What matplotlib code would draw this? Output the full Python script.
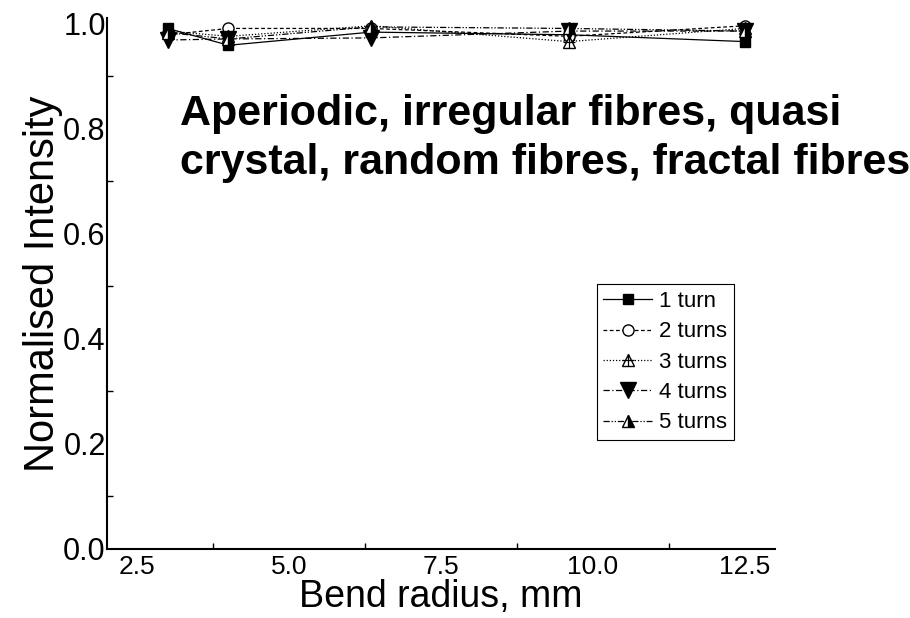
import numpy as np
import matplotlib
matplotlib.use("Agg")
import matplotlib.pyplot as plt
from matplotlib.ticker import MultipleLocator

plt.rcParams['font.family'] = ['Liberation Sans', 'DejaVu Sans']

# bend radius (mm) and normalised intensity for each number of turns
bend_radius = [3.0, 4.0, 6.35, 9.6, 12.5]
turn1 = [0.990, 0.958, 0.983, 0.978, 0.965]
turn2 = [0.978, 0.990, 0.990, 0.975, 0.995]
turn3 = [0.985, 0.975, 0.995, 0.965, 0.990]
turn4 = [0.968, 0.970, 0.972, 0.985, 0.985]
turn5 = [0.982, 0.970, 0.993, 0.990, 0.985]
labels = ["1 turn", "2 turns", "3 turns", "4 turns", "5 turns"]

fig = plt.figure(figsize=(9.1, 6.18), dpi=100)
ax = fig.add_axes([0.1176, 0.1117, 0.734, 0.8593])

lw = 0.9
ms = 8
h1, = ax.plot(bend_radius, turn1, '-', color='k', lw=lw, marker='s', ms=ms - 1,
              mfc='k', mec='k')
h2, = ax.plot(bend_radius, turn2, color='k', lw=lw, ls=(0, (3, 2)), marker='o', ms=ms,
              mfc='white', mec='k')
h3, = ax.plot(bend_radius, turn3, color='k', lw=lw, ls=(0, (1, 1.5)), marker='^', ms=ms + 1,
              mfc='white', mec='k')
# cross inside the open triangle
h3b, = ax.plot(bend_radius, turn3, ls='none', marker='+', ms=ms, mec='k', mew=0.9)
h4, = ax.plot(bend_radius, turn4, color='k', lw=lw, ls=(0, (5, 2, 1, 2)), marker='v', ms=ms + 3,
              mfc='k', mec='k')
h5, = ax.plot(bend_radius, turn5, color='k', lw=lw, ls=(0, (5, 1.5, 1, 1.5, 1, 1.5)),
              marker='^', ms=ms + 1, fillstyle='right', mfc='k', mfcalt='white', mec='k')

ax.set_xlim(2, 13)
ax.set_ylim(0, 1.01)
ax.xaxis.set_major_locator(MultipleLocator(2.5))
ax.xaxis.set_minor_locator(MultipleLocator(2.5, offset=1.25))
ax.yaxis.set_major_locator(MultipleLocator(0.2))
ax.yaxis.set_minor_locator(MultipleLocator(0.2, offset=0.1))
ax.xaxis.set_major_formatter(plt.FormatStrFormatter('%.1f'))
ax.yaxis.set_major_formatter(plt.FormatStrFormatter('%.1f'))
ax.tick_params(which='major', length=0)
ax.tick_params(which='minor', direction='in', length=4, width=1)
ax.tick_params(axis='y', labelsize=22, pad=1)
ax.tick_params(axis='x', labelsize=19, pad=4)

for side in ('top', 'right'):
    ax.spines[side].set_visible(False)
for side in ('left', 'bottom'):
    ax.spines[side].set_linewidth(1.5)

ax.set_xlabel("Bend radius, mm", fontsize=27, labelpad=0)
ax.set_ylabel("Normalised Intensity", fontsize=30, labelpad=0)

ax.text(3.2, 0.865, "Aperiodic, irregular fibres, quasi\ncrystal, random fibres, fractal fibres",
        fontsize=31, fontweight='bold', va='top', ha='left', linespacing=1.28)

leg = ax.legend([h1, h2, (h3, h3b), h4, h5], labels,
                loc='lower left', bbox_to_anchor=(0.733, 0.205), borderaxespad=0,
                fontsize=16, handlelength=2.2, handletextpad=0.3, labelspacing=0.42,
                fancybox=False, edgecolor='k', framealpha=1, borderpad=0.3)
leg.get_frame().set_linewidth(0.8)

fig.savefig("out.png", dpi=100)
